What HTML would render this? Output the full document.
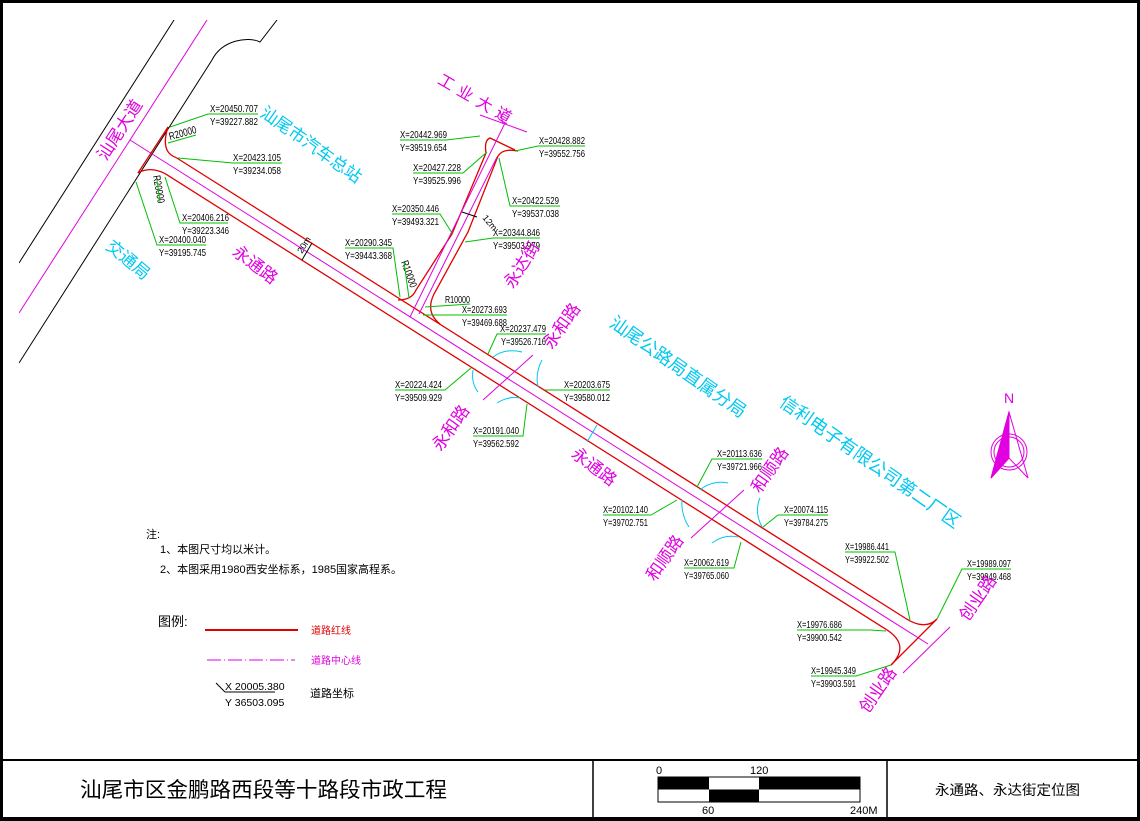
<!DOCTYPE html>
<html><head><meta charset="utf-8"><style>
html,body{margin:0;padding:0;background:#fff;}
svg{display:block;}
text{font-family:"Liberation Sans","Noto Sans CJK SC",sans-serif;}
.c{font-size:10.5px;fill:#000;}
.g{stroke:#00c000;stroke-width:1;fill:none;}
.r{stroke:#e00000;stroke-width:1.3;fill:none;}
.m{stroke:#e000e0;stroke-width:1;fill:none;}
.cy{stroke:#00c8f0;stroke-width:1;fill:none;}
.mt{fill:#e000e0;font-size:17px;}
.ct{fill:#00c8f0;font-size:18px;}
</style></head><body>
<svg width="1140" height="821" viewBox="0 0 1140 821" xmlns="http://www.w3.org/2000/svg">
<rect x="0" y="0" width="1140" height="821" fill="#fff"/>
<!-- Shanwei Dadao -->
<defs><clipPath id="cl"><rect x="19" y="20" width="1110" height="735"/></clipPath></defs>
<g clip-path="url(#cl)">
<line x1="174" y1="20" x2="19" y2="263" stroke="#000" stroke-width="1"/>
<line x1="207" y1="20" x2="19" y2="313" class="m"/>
<path d="M277,20 L260,42 C248,36 222,40 212,60 L19,363" stroke="#000" stroke-width="1" fill="none"/>
</g>
<!-- main road -->
<line x1="176" y1="157.5" x2="905" y2="618" class="r"/>
<line x1="165" y1="173.6" x2="886" y2="629.3" class="r"/>
<line x1="130" y1="140" x2="928" y2="644" class="m"/>
<path d="M168,127 L138,173" class="r"/>
<path d="M168,127 Q160,152 176,157.5" class="r"/>
<path d="M138,173 Q150,166 165,173.6" class="r"/>
<!-- Chuangye -->
<path d="M905,618 Q925,631 937,619 L891,665" class="r"/>
<path d="M886,629.3 Q911,645 891,665" class="r"/>
<line x1="950" y1="627" x2="903" y2="673" class="m"/>
<!-- Yongda -->
<path d="M398,300 Q412,300 416,290 L452,234 L486,153 Q484,140 490,138 L515,150" class="r"/>
<path d="M518,151 Q503,148 498,156 L468,232 L434,294 Q425,312 440,324" class="r"/>
<line x1="505" y1="123" x2="410" y2="317" class="m"/>
<line x1="497" y1="157" x2="419" y2="314" class="m"/>
<line x1="480" y1="115" x2="527" y2="132" class="m"/>
<line x1="500" y1="110" x2="503" y2="124" class="m"/>
<line x1="462" y1="212" x2="477" y2="217" stroke="#000"/>
<text x="482" y="218" font-size="9" transform="rotate(50 482 218)">12m</text>
<line x1="302" y1="260" x2="312" y2="243" stroke="#000"/>
<text x="302" y="254" font-size="9" transform="rotate(-58 302 254)">20m</text>
<!-- intersections -->
<line x1="533" y1="355" x2="483" y2="400" class="m"/>
<path d="M493,357 Q505,348 522,352" class="cy"/>
<path d="M473,370 Q471,383 478,392" class="cy"/>
<path d="M542,360 Q535,373 538,387" class="cy"/>
<path d="M497,403 Q508,396 520,398" class="cy"/>
<line x1="744" y1="490" x2="691" y2="538" class="m"/>
<path d="M700,490 Q712,480 728,483" class="cy"/>
<path d="M682,500 Q681,515 689,527" class="cy"/>
<path d="M760,498 Q754,512 762,527" class="cy"/>
<path d="M712,543 Q724,534 738,537" class="cy"/>
<line x1="597" y1="425" x2="587" y2="442" class="cy"/>
<!-- coordinate labels -->
<g class="c">
<text x="210" y="112" textLength="48" lengthAdjust="spacingAndGlyphs">X=20450.707</text><text x="210" y="125" textLength="48" lengthAdjust="spacingAndGlyphs">Y=39227.882</text>
<text x="233" y="161" textLength="48" lengthAdjust="spacingAndGlyphs">X=20423.105</text><text x="233" y="174" textLength="48" lengthAdjust="spacingAndGlyphs">Y=39234.058</text>
<text x="182" y="221" textLength="47" lengthAdjust="spacingAndGlyphs">X=20406.216</text><text x="182" y="234" textLength="47" lengthAdjust="spacingAndGlyphs">Y=39223.346</text>
<text x="159" y="243" textLength="47" lengthAdjust="spacingAndGlyphs">X=20400.040</text><text x="159" y="256" textLength="47" lengthAdjust="spacingAndGlyphs">Y=39195.745</text>
<text x="345" y="246" textLength="47" lengthAdjust="spacingAndGlyphs">X=20290.345</text><text x="345" y="259" textLength="47" lengthAdjust="spacingAndGlyphs">Y=39443.368</text>
<text x="392" y="212" textLength="47" lengthAdjust="spacingAndGlyphs">X=20350.446</text><text x="392" y="225" textLength="47" lengthAdjust="spacingAndGlyphs">Y=39493.321</text>
<text x="400" y="138" textLength="47" lengthAdjust="spacingAndGlyphs">X=20442.969</text><text x="400" y="151" textLength="47" lengthAdjust="spacingAndGlyphs">Y=39519.654</text>
<text x="413" y="171" textLength="48" lengthAdjust="spacingAndGlyphs">X=20427.228</text><text x="413" y="184" textLength="48" lengthAdjust="spacingAndGlyphs">Y=39525.996</text>
<text x="539" y="144" textLength="46" lengthAdjust="spacingAndGlyphs">X=20428.882</text><text x="539" y="157" textLength="46" lengthAdjust="spacingAndGlyphs">Y=39552.756</text>
<text x="512" y="204" textLength="47" lengthAdjust="spacingAndGlyphs">X=20422.529</text><text x="512" y="217" textLength="47" lengthAdjust="spacingAndGlyphs">Y=39537.038</text>
<text x="493" y="236" textLength="47" lengthAdjust="spacingAndGlyphs">X=20344.846</text><text x="493" y="249" textLength="47" lengthAdjust="spacingAndGlyphs">Y=39503.979</text>
<text x="445" y="303" textLength="25" lengthAdjust="spacingAndGlyphs">R10000</text>
<text x="462" y="313" textLength="45" lengthAdjust="spacingAndGlyphs">X=20273.693</text><text x="462" y="326" textLength="45" lengthAdjust="spacingAndGlyphs">Y=39469.688</text>
<text x="500" y="332" textLength="46" lengthAdjust="spacingAndGlyphs">X=20237.479</text><text x="501" y="345" textLength="45" lengthAdjust="spacingAndGlyphs">Y=39526.716</text>
<text x="395" y="388" textLength="47" lengthAdjust="spacingAndGlyphs">X=20224.424</text><text x="395" y="401" textLength="47" lengthAdjust="spacingAndGlyphs">Y=39509.929</text>
<text x="564" y="388" textLength="46" lengthAdjust="spacingAndGlyphs">X=20203.675</text><text x="564" y="401" textLength="46" lengthAdjust="spacingAndGlyphs">Y=39580.012</text>
<text x="473" y="434" textLength="46" lengthAdjust="spacingAndGlyphs">X=20191.040</text><text x="473" y="447" textLength="46" lengthAdjust="spacingAndGlyphs">Y=39562.592</text>
<text x="717" y="457" textLength="45" lengthAdjust="spacingAndGlyphs">X=20113.636</text><text x="717" y="470" textLength="45" lengthAdjust="spacingAndGlyphs">Y=39721.966</text>
<text x="603" y="513" textLength="45" lengthAdjust="spacingAndGlyphs">X=20102.140</text><text x="603" y="526" textLength="45" lengthAdjust="spacingAndGlyphs">Y=39702.751</text>
<text x="784" y="513" textLength="44" lengthAdjust="spacingAndGlyphs">X=20074.115</text><text x="784" y="526" textLength="44" lengthAdjust="spacingAndGlyphs">Y=39784.275</text>
<text x="684" y="566" textLength="45" lengthAdjust="spacingAndGlyphs">X=20062.619</text><text x="684" y="579" textLength="45" lengthAdjust="spacingAndGlyphs">Y=39765.060</text>
<text x="845" y="550" textLength="44" lengthAdjust="spacingAndGlyphs">X=19986.441</text><text x="845" y="563" textLength="44" lengthAdjust="spacingAndGlyphs">Y=39922.502</text>
<text x="967" y="567" textLength="44" lengthAdjust="spacingAndGlyphs">X=19989.097</text><text x="967" y="580" textLength="44" lengthAdjust="spacingAndGlyphs">Y=39949.468</text>
<text x="797" y="628" textLength="45" lengthAdjust="spacingAndGlyphs">X=19976.686</text><text x="797" y="641" textLength="45" lengthAdjust="spacingAndGlyphs">Y=39900.542</text>
<text x="811" y="674" textLength="45" lengthAdjust="spacingAndGlyphs">X=19945.349</text><text x="811" y="687" textLength="45" lengthAdjust="spacingAndGlyphs">Y=39903.591</text>
<text x="170" y="140" textLength="28" lengthAdjust="spacingAndGlyphs" transform="rotate(-15 170 140)">R20000</text>
<text x="153" y="176" textLength="28" lengthAdjust="spacingAndGlyphs" transform="rotate(80 153 176)">R20000</text>
<text x="401" y="262" textLength="28" lengthAdjust="spacingAndGlyphs" transform="rotate(70 401 262)">R10000</text>
</g>
<g class="g">
<path d="M258,114 H208 L170,127"/>
<path d="M168,143 L196,135"/>
<path d="M282,163 H233 L178,158"/>
<path d="M228,223 H180 L165,177"/>
<path d="M157,180 L160,202"/>
<path d="M206,245 H157 L136,182"/>
<path d="M345,248 H393 L400,297"/>
<path d="M404,262 L409,298"/>
<path d="M392,214 H440 L452,233"/>
<path d="M400,140 H446 L480,136"/>
<path d="M413,173 H463 L487,152"/>
<path d="M585,146 H538 L515,151"/>
<path d="M560,206 H510 L499,158"/>
<path d="M540,238 H493 L465,242"/>
<path d="M425,307 L470,304"/>
<path d="M507,315 H423"/>
<path d="M546,334 H497 L488,354"/>
<path d="M395,390 H445 L471,368"/>
<path d="M545,390 H610"/>
<path d="M473,436 H523 L527,404"/>
<path d="M762,459 H712 L697,487"/>
<path d="M603,515 H651 L677,500"/>
<path d="M828,515 H778 L763,527"/>
<path d="M684,568 H734 L741,542"/>
<path d="M845,552 H895 L910,620"/>
<path d="M1011,569 H962 L937,619"/>
<path d="M797,630 H870 L886,631"/>
<path d="M811,676 H856 L891,665"/>
</g>
<!-- road names -->
<g class="mt" text-anchor="middle" dominant-baseline="central">
<text x="120" y="130" transform="rotate(-57 120 130)">汕尾大道</text>
<text x="255" y="265" transform="rotate(37 255 265)">永通路</text>
<text x="477" y="101" font-size="16" letter-spacing="6" transform="rotate(30 477 101)">工业大道</text>
<text x="522" y="265" transform="rotate(-58 522 265)">永达街</text>
<text x="562" y="326" transform="rotate(-55 562 326)">永和路</text>
<text x="451" y="428" transform="rotate(-55 451 428)">永和路</text>
<text x="594" y="467" transform="rotate(37 594 467)">永通路</text>
<text x="770" y="470" transform="rotate(-55 770 470)">和顺路</text>
<text x="665" y="558" transform="rotate(-55 665 558)">和顺路</text>
<text x="978" y="598" transform="rotate(-55 978 598)">创业路</text>
<text x="878" y="690" transform="rotate(-55 878 690)">创业路</text>
</g>
<g class="ct" text-anchor="middle" dominant-baseline="central">
<text x="311" y="145" font-size="17" transform="rotate(35 311 145)">汕尾市汽车总站</text>
<text x="128" y="260" font-size="17" transform="rotate(40 128 260)">交通局</text>
<text x="678" y="367" transform="rotate(35 678 367)">汕尾公路局直属分局</text>
<text x="870" y="462" transform="rotate(35 870 462)">信利电子有限公司第二厂区</text>
</g>
<!-- North arrow -->
<g stroke="#e000e0" fill="none">
<circle cx="1009" cy="452" r="18"/>
<circle cx="1009" cy="452" r="15"/>
<path d="M1009,412 L991,478 L1009,458 L1028,478 Z"/>
<path d="M1009,412 L991,478 L1009,458 Z" fill="#e000e0"/>
</g>
<text x="1009" y="403" text-anchor="middle" font-size="14" fill="#e000e0" font-family="Liberation Serif,serif">N</text>
<!-- notes -->
<g font-size="11" fill="#000">
<text x="146" y="538">注:</text>
<text x="160" y="553">1、本图尺寸均以米计。</text>
<text x="160" y="573">2、本图采用1980西安坐标系，1985国家高程系。</text>
<text x="158" y="626" font-size="13">图例:</text>
</g>
<line x1="205" y1="630" x2="298" y2="630" stroke="#e00000" stroke-width="2"/>
<text x="311" y="634" font-size="10" fill="#e00000">道路红线</text>
<line x1="207" y1="660" x2="295" y2="660" stroke="#e000e0" stroke-width="1" stroke-dasharray="14,3,1,3"/>
<text x="311" y="664" font-size="10" fill="#e000e0">道路中心线</text>
<line x1="216" y1="683" x2="225" y2="692" stroke="#000"/>
<line x1="225" y1="692" x2="275" y2="692" stroke="#000"/>
<text x="225" y="690" font-size="10.5">X 20005.380</text>
<text x="225" y="706" font-size="10.5">Y 36503.095</text>
<text x="310" y="697" font-size="11">道路坐标</text>
<!-- title block -->
<line x1="0" y1="760" x2="1140" y2="760" stroke="#000" stroke-width="2"/>
<line x1="593" y1="760" x2="593" y2="818" stroke="#000" stroke-width="1.5"/>
<line x1="887" y1="760" x2="887" y2="818" stroke="#000" stroke-width="1.5"/>
<text x="80" y="797" font-size="21" textLength="367" lengthAdjust="spacingAndGlyphs" font-family="Noto Serif CJK SC,serif">汕尾市区金鹏路西段等十路段市政工程</text>
<text x="935" y="795" font-size="14" textLength="145" lengthAdjust="spacingAndGlyphs">永通路、永达街定位图</text>
<rect x="658" y="777" width="202" height="25" fill="#fff" stroke="#000"/>
<rect x="658" y="777" width="51" height="12.5" fill="#000"/>
<rect x="759" y="777" width="101" height="12.5" fill="#000"/>
<rect x="709" y="789.5" width="50" height="12.5" fill="#000"/>
<g font-size="11" font-family="Liberation Serif,serif">
<text x="656" y="774">0</text><text x="750" y="774">120</text>
<text x="702" y="814">60</text><text x="850" y="814">240M</text>
</g>
<!-- frame -->
<rect x="1.5" y="1.5" width="1137" height="818" fill="none" stroke="#000" stroke-width="3"/>
<rect x="0" y="817" width="1140" height="4" fill="#000"/>
</svg>
</body></html>
